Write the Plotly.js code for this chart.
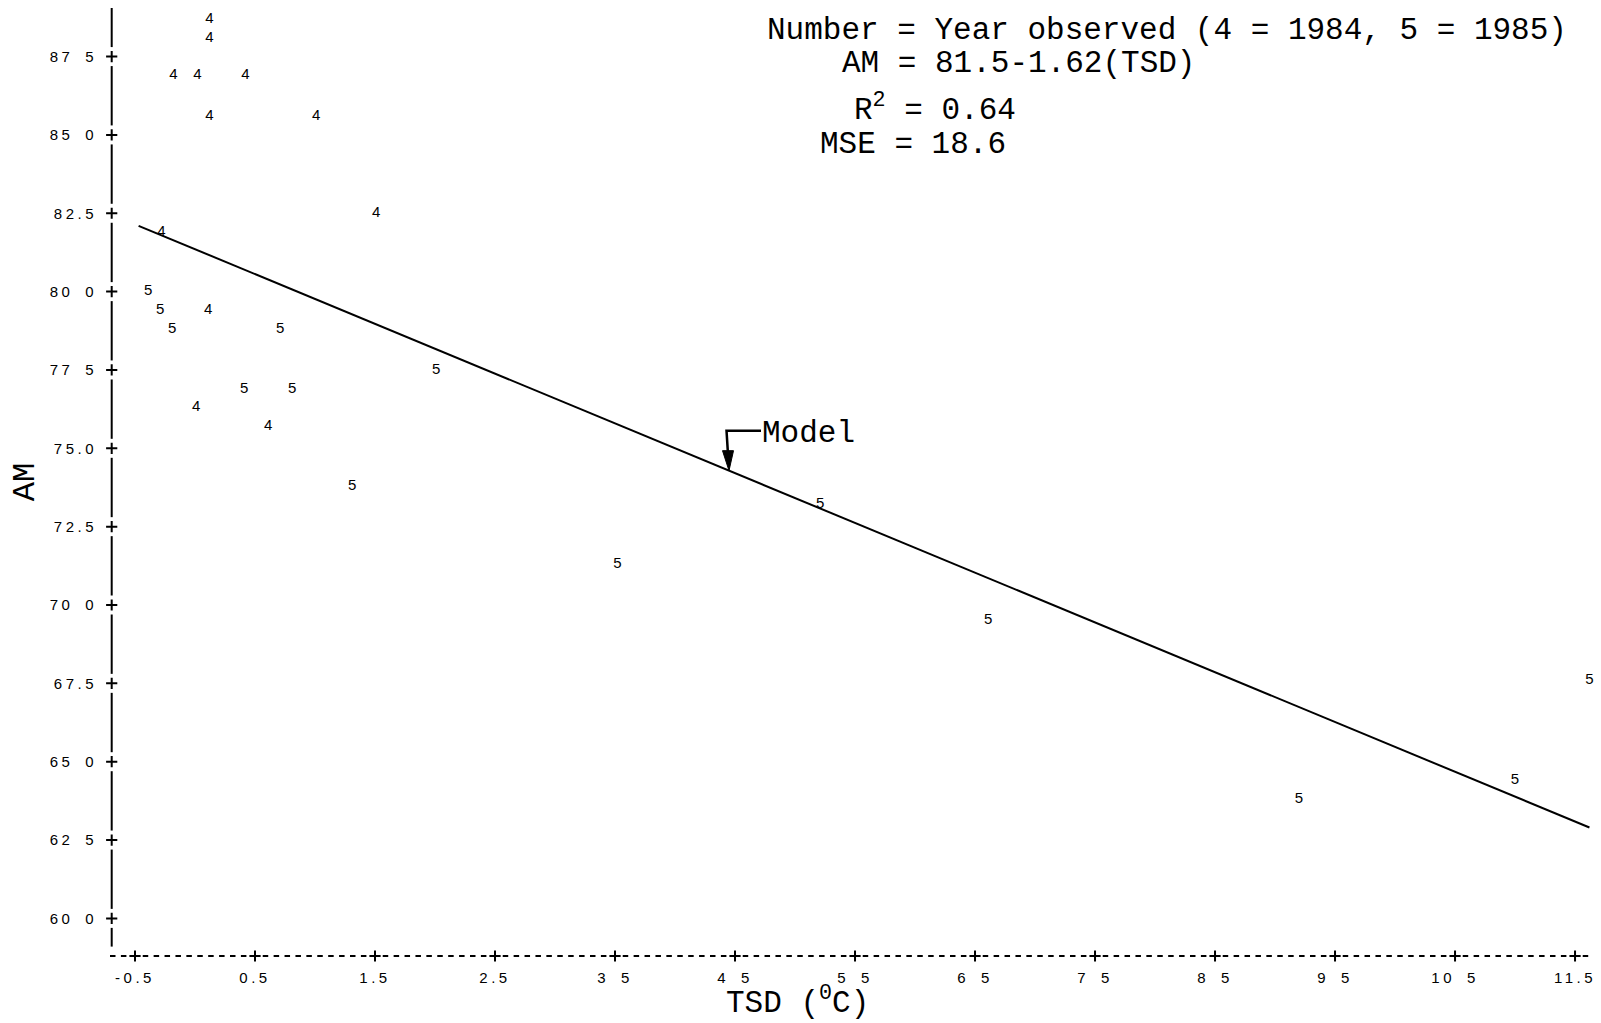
<!DOCTYPE html>
<html>
<head>
<meta charset="utf-8">
<script src="https://cdn.plot.ly/plotly-3.0.1.min.js"></script>
<style>
  html, body { margin: 0; padding: 0; background: #fff; }
  #chart { width: 1601px; height: 1023px; }
  .xtick text, .ytick text { letter-spacing: 3.5px; }
</style>
</head>
<body>
<div id="chart"></div>
<script>
// ---------------- DATA ----------------
// Observations plotted with the digit of the year observed (4 = 1984, 5 = 1985)
const year1984TSD = [0.12, 0.12, -0.18, 0.02, 0.42, 0.12, 1.01, 1.51, -0.28, 0.11, 0.01, 0.61];
const year1984AM  = [88.7, 88.1, 86.9, 86.9, 86.9, 85.6, 85.6, 82.5, 81.9, 79.4, 76.3, 75.7];

const year1985TSD = [-0.39, -0.29, -0.19, 0.71, 2.01, 0.41, 0.81, 1.31, 5.21, 3.52, 6.61, 11.62, 11.0, 9.2];
const year1985AM  = [80.0, 79.4, 78.8, 78.8, 77.5, 76.9, 76.9, 73.8, 73.2, 71.3, 69.5, 67.6, 64.4, 63.8];

// Fitted model line AM = 81.5 - 1.62(TSD), as drawn
const modelTSD = [-0.47, 11.62];
const modelAM  = [82.1, 62.9];

// Tick values / labels (as printed)
const xTickVals = [-0.5, 0.5, 1.5, 2.5, 3.5, 4.5, 5.5, 6.5, 7.5, 8.5, 9.5, 10.5, 11.5];
const xTickText = ["-0.5", "0.5", "1.5", "2.5", "3 5", "4 5", "5 5", "6 5", "7 5", "8 5", "9 5", "10 5", "11.5"];
const yTickVals = [60, 62.5, 65, 67.5, 70, 72.5, 75, 77.5, 80, 82.5, 85, 87.5];
const yTickText = ["60 0", "62 5", "65 0", "67.5", "70 0", "72.5", "75.0", "77 5", "80 0", "82.5", "85 0", "87 5"];

// Text blocks
const statLines = [
  "Number = Year observed (4 = 1984, 5 = 1985)",
  "AM = 81.5-1.62(TSD)",
  "R<sup>2</sup> = 0.64",
  "MSE = 18.6"
];
const modelLabel = "Model";
const modelArrowTSD = 4.45;
const xTitle = "TSD (<sup>0</sup>C)";
const yTitle = "AM";

// ---------------- LAYOUT HELPERS ----------------
const W = 1601, H = 1023;
const M = { l: 110, r: 10, t: 8, b: 67 };
const XR = [-0.7083, 11.633];
const YR = [58.8, 89.05];
const plotW = W - M.l - M.r;
const plotH = H - M.t - M.b;
const pxX = px => (px - M.l) / plotW;          // pixel -> paper x
const pxY = py => (H - M.b - py) / plotH;      // pixel -> paper y
const dataToPy = v => H - M.b - (v - YR[0]) / (YR[1] - YR[0]) * plotH;
const dataToPx = v => M.l + (v - XR[0]) / (XR[1] - XR[0]) * plotW;

const monoFont = '"Liberation Mono", "Courier New", monospace';
const sans = '"Liberation Sans", Arial, sans-serif';

function interpModel(x) {
  const t = (x - modelTSD[0]) / (modelTSD[1] - modelTSD[0]);
  return modelAM[0] + t * (modelAM[1] - modelAM[0]);
}

const figSpace = s => s.replace(/ /g, "\u2007");

// y-axis position (slightly right of the x-axis start)
const yAxisPaperX = pxX(111.7);
const yAxisDataX = XR[0] + yAxisPaperX * (XR[1] - XR[0]);

// ---------------- TRACES ----------------
const traces = [
  {
    type: "scatter", mode: "lines", name: "Model",
    x: modelTSD, y: modelAM,
    line: { color: "#000", width: 2 },
    hoverinfo: "skip", showlegend: false
  },
  {
    type: "scatter", mode: "text", name: "1984",
    x: year1984TSD, y: year1984AM,
    text: year1984TSD.map(() => "4"),
    textposition: "middle center",
    textfont: { family: sans, size: 15, color: "#000" },
    cliponaxis: false, showlegend: false
  },
  {
    type: "scatter", mode: "text", name: "1985",
    x: year1985TSD, y: year1985AM,
    text: year1985TSD.map(() => "5"),
    textposition: "middle center",
    textfont: { family: sans, size: 15, color: "#000" },
    cliponaxis: false, showlegend: false
  },
  // "+" tick marks on the y axis
  {
    type: "scatter", mode: "markers",
    x: yTickVals.map(() => yAxisDataX), y: yTickVals,
    marker: { symbol: "cross-thin", size: 8, line: { width: 2, color: "#000" }, color: "#000" },
    cliponaxis: false, showlegend: false, hoverinfo: "skip"
  },
  // "+" tick marks on the x axis
  {
    type: "scatter", mode: "markers",
    x: xTickVals, y: xTickVals.map(() => YR[0]),
    marker: { symbol: "cross-thin", size: 8, line: { width: 2, color: "#000" }, color: "#000" },
    cliponaxis: false, showlegend: false, hoverinfo: "skip"
  }
];

// ---------------- SHAPES ----------------
const shapes = [];
// dashed x axis line
shapes.push({
  type: "line", xref: "paper", yref: "paper",
  x0: 0, x1: 1, y0: 0, y1: 0,
  line: { color: "#000", width: 2, dash: "5.5px,5.409px" }
});
// y axis: solid segments interrupted by the "+" ticks
const gap = 9.5 / (plotH / (YR[1] - YR[0]));
const yBottom = 59.1;
const ySegBounds = [yBottom].concat(yTickVals);
for (let i = 0; i < ySegBounds.length; i++) {
  const lo = i === 0 ? ySegBounds[0] : ySegBounds[i] + gap;
  const hi = i + 1 < ySegBounds.length ? ySegBounds[i + 1] - gap : YR[1];
  shapes.push({
    type: "line", xref: "paper", yref: "y",
    x0: yAxisPaperX, x1: yAxisPaperX, y0: lo, y1: hi,
    line: { color: "#000", width: 2 }
  });
}
// "Model" pointer: elbow line + filled arrow head ending on the model line
const tipY = interpModel(modelArrowTSD);
const tipPx = dataToPx(modelArrowTSD);
const tipPy = dataToPy(tipY);
const cornerPx = tipPx - 2.5, cornerPy = tipPy - 40;
shapes.push({
  type: "path", xref: "paper", yref: "paper",
  path: "M " + pxX(761) + " " + pxY(cornerPy) +
        " L " + pxX(cornerPx) + " " + pxY(cornerPy) +
        " L " + pxX(tipPx - 1) + " " + pxY(tipPy - 16),
  line: { color: "#000", width: 2.5 }
});
shapes.push({
  type: "path", xref: "paper", yref: "paper",
  path: "M " + pxX(tipPx - 6.5) + " " + pxY(tipPy - 20) +
        " L " + pxX(tipPx + 4.5) + " " + pxY(tipPy - 20) +
        " L " + pxX(tipPx) + " " + pxY(tipPy) + " Z",
  fillcolor: "#000", line: { color: "#000", width: 1 }
});

// ---------------- ANNOTATIONS ----------------
const statLeft = [765, 840, 852, 818];
const statMid = [31, 63.5, 108, 145];
const annotations = statLines.map((t, i) => ({
  text: t, xref: "paper", yref: "paper",
  x: pxX(statLeft[i]), y: pxY(statMid[i]),
  xanchor: "left", yanchor: "middle",
  showarrow: false,
  font: { family: monoFont, size: 31, color: "#000" }
}));
annotations.push({
  text: modelLabel, xref: "paper", yref: "paper",
  x: pxX(760), y: pxY(433),
  xanchor: "left", yanchor: "middle", showarrow: false,
  font: { family: monoFont, size: 31, color: "#000" }
});
// x axis title, placed as printed (left of the plot centre)
annotations.push({
  text: xTitle, xref: "paper", yref: "paper",
  x: pxX(797), y: pxY(1023),
  xanchor: "center", yanchor: "bottom", showarrow: false,
  font: { family: monoFont, size: 31, color: "#000" }
});

// ---------------- LAYOUT ----------------
const layout = {
  width: W, height: H,
  margin: M,
  paper_bgcolor: "#fff", plot_bgcolor: "#fff",
  showlegend: false,
  hovermode: false,
  xaxis: {
    range: XR, autorange: false,
    showgrid: false, zeroline: false, showline: false,
    tickmode: "array", tickvals: xTickVals, ticktext: xTickText.map(figSpace),
    ticks: "", ticklabelstandoff: 11,
    tickfont: { family: sans, size: 15, color: "#000" },
    automargin: false
  },
  yaxis: {
    range: YR, autorange: false,
    showgrid: false, zeroline: false, showline: false,
    tickmode: "array", tickvals: yTickVals, ticktext: yTickText.map(figSpace),
    ticks: "", ticklabelstandoff: 12,
    tickfont: { family: sans, size: 15, color: "#000" },
    title: { text: yTitle, font: { family: monoFont, size: 32, color: "#000" }, standoff: 5 },
    automargin: false
  },
  shapes: shapes,
  annotations: annotations
};

Plotly.newPlot("chart", traces, layout, { staticPlot: true, displayModeBar: false });
</script>
</body>
</html>
